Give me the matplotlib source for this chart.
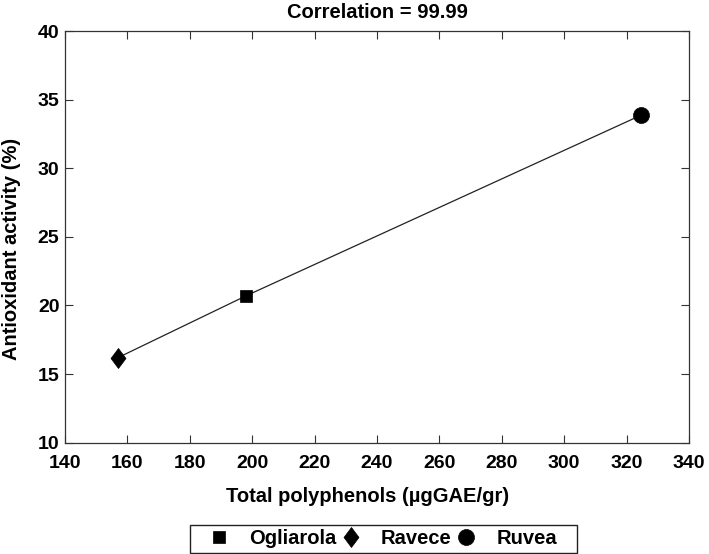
import matplotlib
matplotlib.use("Agg")
import matplotlib.pyplot as plt
from matplotlib.path import Path
from matplotlib.patches import Rectangle

cultivars = ['Ogliarola', 'Ravece', 'Ruvea']
polyphenols = [198.0, 157.0, 324.5]
antioxidant = [20.7, 16.2, 33.85]

xticks = list(range(140, 341, 20))
yticks = list(range(10, 41, 5))

diamond = Path([(0, 1), (0.75, 0), (0, -1), (-0.75, 0), (0, 1)],
               [Path.MOVETO, Path.LINETO, Path.LINETO, Path.LINETO, Path.CLOSEPOLY])
markers = ['s', diamond, 'o']
msizes = [9.0, 14.4, 11.5]

FONT = 'Liberation Sans'

W, H = 709, 554
fig = plt.figure(figsize=(W / 100, H / 100), dpi=100)
ax = fig.add_axes([65 / W, 1 - 442.7 / H, 624 / W, 411.7 / H])

order = sorted(range(len(polyphenols)), key=lambda i: polyphenols[i])
ax.plot([polyphenols[i] for i in order], [antioxidant[i] for i in order],
        color='#222222', lw=0.9, zorder=2)
for name, x, y, m, s in zip(cultivars, polyphenols, antioxidant, markers, msizes):
    ax.plot([x], [y], marker=m, ms=s, color='black', mew=0.5,
            linestyle='none', label=name, zorder=3)

ax.set_xlim(140, 340)
ax.set_ylim(10, 40)
ax.set_xticks(xticks)
ax.set_yticks(yticks)
ax.tick_params(direction='in', top=True, right=True, length=5.5, width=0.8,
               labelsize=14, color='#333333')
ax.tick_params(axis='x', pad=8.5)
ax.tick_params(axis='y', pad=4)
for lab in ax.get_xticklabels() + ax.get_yticklabels():
    lab.set_fontfamily(FONT)
    lab.set_fontweight('bold')
for sp in ax.spines.values():
    sp.set_linewidth(0.9)
    sp.set_color('#333333')

ax.set_title('Correlation = 99.99', fontsize=14.5, fontweight='bold',
             family=FONT, y=1 + 19 / 411.7, va='center', pad=0)
ax.set_xlabel('Total polyphenols (µgGAE/gr)', fontsize=14.5, fontweight='bold',
              family=FONT, va='center')
ax.xaxis.set_label_coords((367.5 - 65) / 624, -(497 - 442.7) / 411.7)
ax.set_ylabel('Antioxidant activity (%)', fontsize=14.5, fontweight='bold',
              family=FONT, va='center')
ax.yaxis.set_label_coords(-(65 - 12) / 624, (442.7 - 249) / 411.7)

leg = fig.legend(*ax.get_legend_handles_labels(), loc='center',
                 bbox_to_anchor=(383 / W, 1 - 539 / H), ncol=3,
                 frameon=False,
                 prop={'family': FONT, 'weight': 'bold', 'size': 14.5},
                 handlelength=1.0, handletextpad=1.0, columnspacing=0.2,
                 borderpad=0.0)
fig.patches.append(Rectangle((190 / W, 1 - 553 / H), (577 - 190) / W, 28 / H,
                             transform=fig.transFigure, fill=False,
                             edgecolor='#222222', lw=1.0))

fig.savefig('out.png', dpi=100)
